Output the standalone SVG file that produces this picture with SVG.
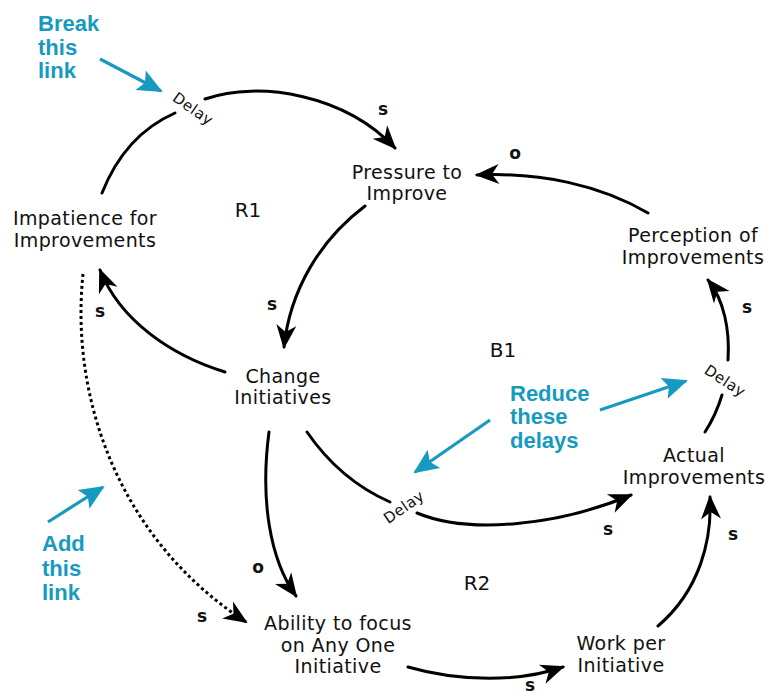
<svg xmlns="http://www.w3.org/2000/svg" width="776" height="694" viewBox="0 0 776 694">
<style>
.node{font-family:"DejaVu Sans",sans-serif;font-size:19px;letter-spacing:0.4px;fill:#111;text-anchor:middle}
.pol{font-family:"DejaVu Sans",sans-serif;font-size:17px;font-weight:bold;fill:#111;text-anchor:middle}
.loop{font-family:"DejaVu Sans",sans-serif;font-size:20px;fill:#111;text-anchor:middle}
.delay{font-family:"DejaVu Sans",sans-serif;font-size:15px;letter-spacing:0.5px;fill:#111;text-anchor:middle}
.note{font-family:"Liberation Sans",sans-serif;font-size:22px;font-weight:bold;fill:#169ac0}
.link{fill:none;stroke:#000;stroke-width:3;stroke-linecap:round}
.dot{fill:none;stroke:#000;stroke-width:3;stroke-dasharray:3 3}
.blue{fill:none;stroke:#169ac0;stroke-width:3.2}
</style>
<defs>
<marker id="ah" markerUnits="userSpaceOnUse" markerWidth="30" markerHeight="30" refX="0" refY="0" viewBox="-26 -15 30 30" orient="auto" overflow="visible">
<path d="M2,0 L-22,-10 L-15,0 L-22,10 Z" fill="#000"/>
</marker>
<marker id="bh" markerUnits="userSpaceOnUse" markerWidth="30" markerHeight="30" refX="0" refY="0" viewBox="-26 -15 30 30" orient="auto" overflow="visible">
<path d="M2,0 L-23,-11 L-18,0 L-23,11 Z" fill="#169ac0"/>
</marker>
</defs>

<g id="connectors">
<path class="link" d="M102,193 Q125,135 175,113"/>
<path class="link" d="M205,99 C260,80 345,95 395,148" marker-end="url(#ah)"/>
<path class="link" d="M648,213 C600,185 540,172 477,175" marker-end="url(#ah)"/>
<path class="link" d="M365,206 C320,240 290,290 284,347" marker-end="url(#ah)"/>
<path class="link" d="M225,372 C170,355 120,320 100,270" marker-end="url(#ah)"/>
<path class="dot" d="M83,274 C70,400 120,540 246,622" marker-end="url(#ah)"/>
<path class="link" d="M269,432 C260,500 270,560 296,596" marker-end="url(#ah)"/>
<path class="link" d="M307,432 Q340,480 390,502"/>
<path class="link" d="M417,513 C470,535 560,525 631,495" marker-end="url(#ah)"/>
<path class="link" d="M658,626 C700,590 712,540 710,497" marker-end="url(#ah)"/>
<path class="link" d="M408,667 C460,682 520,682 563,667" marker-end="url(#ah)"/>
<path class="link" d="M705,432 Q716,415 722,395"/>
<path class="link" d="M728,360 C730,330 724,300 708,280" marker-end="url(#ah)"/>
<text class="delay" transform="translate(193,109) rotate(35)" y="5">Delay</text>
<text class="delay" transform="translate(404,507) rotate(-35)" y="5">Delay</text>
<text class="delay" transform="translate(725,381) rotate(33)" y="5">Delay</text>
<text class="pol" x="383" y="115">s</text>
<text class="pol" x="515" y="159">o</text>
<text class="pol" x="272" y="310">s</text>
<text class="pol" x="100" y="317">s</text>
<text class="pol" x="747" y="313">s</text>
<text class="pol" x="733" y="540">s</text>
<text class="pol" x="608" y="535">s</text>
<text class="pol" x="258" y="573">o</text>
<text class="pol" x="202" y="622">s</text>
<text class="pol" x="530" y="691">s</text>
</g>

<g id="loops">
<text class="loop" x="248" y="217">R1</text>
<text class="loop" x="503" y="357">B1</text>
<text class="loop" x="477" y="590">R2</text>
</g>

<g id="node-pressure"><text class="node" x="407" y="179">Pressure to<tspan x="407" dy="21">Improve</tspan></text></g>
<g id="node-impatience"><text class="node" x="85" y="225">Impatience for<tspan x="85" dy="22">Improvements</tspan></text></g>
<g id="node-perception"><text class="node" x="693" y="242">Perception of<tspan x="693" dy="22">Improvements</tspan></text></g>
<g id="node-change"><text class="node" x="283" y="383">Change<tspan x="283" dy="21">Initiatives</tspan></text></g>
<g id="node-actual"><text class="node" x="694" y="462">Actual<tspan x="694" dy="22">Improvements</tspan></text></g>
<g id="node-ability"><text class="node" x="338" y="630">Ability to focus<tspan x="338" dy="22">on Any One</tspan><tspan x="338" dy="21">Initiative</tspan></text></g>
<g id="node-work"><text class="node" x="621" y="650">Work per<tspan x="621" dy="22">Initiative</tspan></text></g>

<g id="annotations">
<path class="blue" d="M100,59 L161,91" marker-end="url(#bh)"/>
<path class="blue" d="M600,410 L686,381" marker-end="url(#bh)"/>
<path class="blue" d="M490,420 L415,472" marker-end="url(#bh)"/>
<path class="blue" d="M48,522 L103,487" marker-end="url(#bh)"/>
<text class="note" x="38" y="31">Break<tspan x="38" dy="24">this</tspan><tspan x="38" dy="23">link</tspan></text>
<text class="note" x="510" y="401">Reduce<tspan x="510" dy="23">these</tspan><tspan x="510" dy="24">delays</tspan></text>
<text class="note" x="42" y="551">Add<tspan x="42" dy="25">this</tspan><tspan x="42" dy="24">link</tspan></text>
</g>
</svg>
